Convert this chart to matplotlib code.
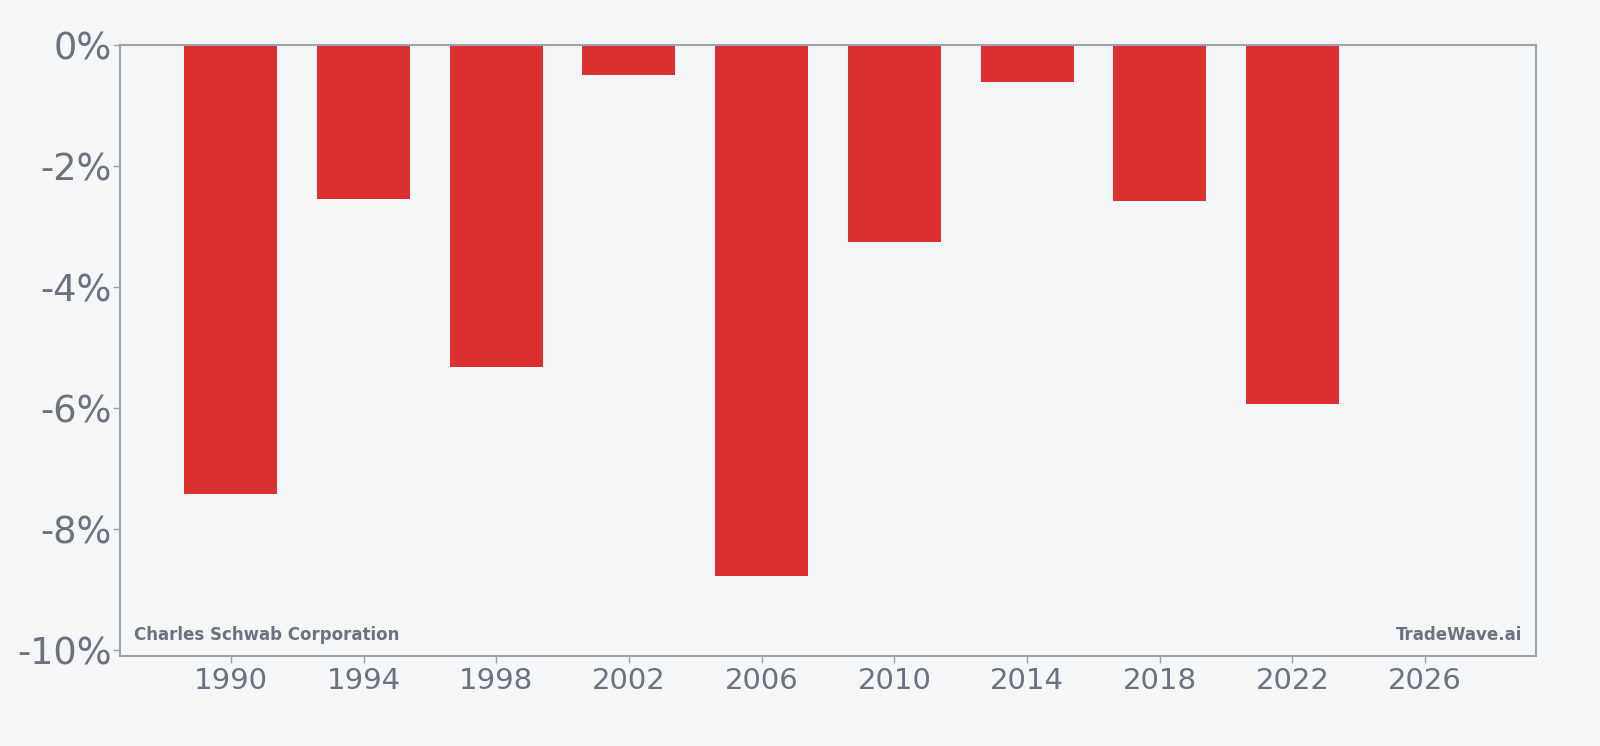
import matplotlib
matplotlib.use("Agg")
import matplotlib.pyplot as plt
from matplotlib.ticker import FuncFormatter

years = [1990, 1994, 1998, 2002, 2006, 2010, 2014, 2018, 2022]
values = [-7.43, -2.54, -5.33, -0.49, -8.78, -3.25, -0.61, -2.58, -5.93]
xticks = [1990, 1994, 1998, 2002, 2006, 2010, 2014, 2018, 2022, 2026]
yticks = [0, -2, -4, -6, -8, -10]

bg = "#f4f6f8"
text_col = "#6b7280"
spine_col = "#9ca3af"
bar_col = "#dc3030"

fig = plt.figure(figsize=(16, 7.46), dpi=100, facecolor=bg)
ax = fig.add_axes([0.075, 0.1206, 0.885, 0.8191])
ax.set_facecolor(bg)

ax.bar(years, values, width=2.8, color=bar_col, zorder=2)

ax.set_xlim(1986.66, 2029.34)
ax.set_ylim(-10.1, 0)
ax.set_xticks(xticks)
ax.set_yticks(yticks)
ax.yaxis.set_major_formatter(FuncFormatter(lambda v, p: f"{int(round(v))}%"))

for s in ax.spines.values():
    s.set_color(spine_col)
    s.set_linewidth(1.5)

ax.tick_params(axis="x", colors=spine_col, labelcolor=text_col, labelsize=21, length=5, width=1, pad=3)
ax.tick_params(axis="y", colors=spine_col, labelcolor=text_col, labelsize=26.5, length=5, width=1, pad=1)

ax.text(0.01, 0.02, "Charles Schwab Corporation", transform=ax.transAxes,
        fontsize=12, fontweight="bold", color=text_col, ha="left", va="bottom")
ax.text(0.99, 0.02, "TradeWave.ai", transform=ax.transAxes,
        fontsize=12, fontweight="bold", color=text_col, ha="right", va="bottom")

fig.savefig("out.png", dpi=100, facecolor=bg)
